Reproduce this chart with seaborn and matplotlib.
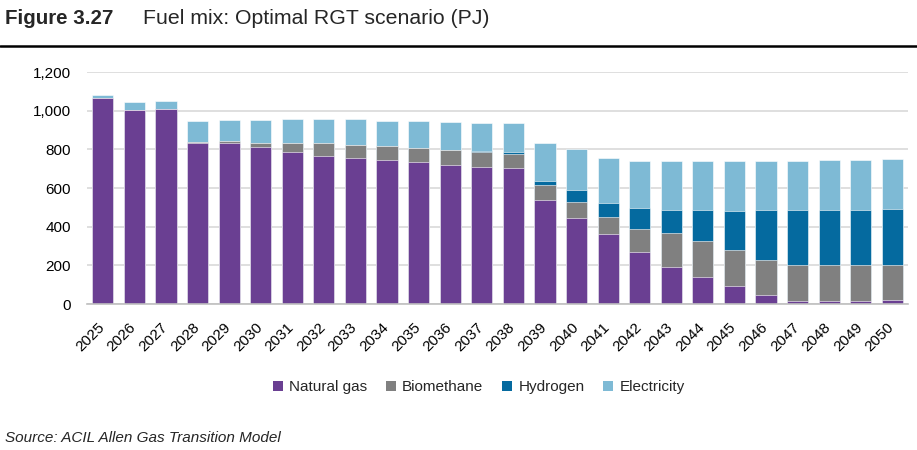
import matplotlib
matplotlib.use("Agg")
import matplotlib.pyplot as plt
import matplotlib.transforms as mtransforms
import seaborn as sns
import pandas as pd
from matplotlib.lines import Line2D
from matplotlib.patches import Patch

years = [str(y) for y in range(2025, 2051)]
natural_gas = [1066, 1004, 1009, 834, 832, 813, 786, 765, 755, 743, 732, 720, 709,
               701, 539, 443, 360, 267, 191, 142, 92, 45, 17, 17, 17, 19]
biomethane = [0, 0, 0, 3, 9, 22, 49, 67, 70, 74, 76, 79, 78,
              77, 78, 85, 92, 121, 174, 184, 185, 184, 187, 187, 187, 184]
hydrogen = [0, 0, 0, 0, 0, 0, 0, 0, 0, 0, 0, 0, 7,
            10, 19, 64, 71, 107, 122, 161, 204, 258, 283, 283, 284, 289]
electricity = [15, 41, 43, 110, 110, 119, 122, 127, 131, 132, 136, 141, 143,
               149, 199, 212, 232, 243, 251, 251, 257, 254, 254, 258, 258, 258]

series = ["Natural gas", "Biomethane", "Hydrogen", "Electricity"]
colors = ["#6A3F92", "#808080", "#056A9F", "#7EBAD5"]

df = pd.DataFrame({"year": years, "Natural gas": natural_gas, "Biomethane": biomethane,
                   "Hydrogen": hydrogen, "Electricity": electricity})
cum = df[series].cumsum(axis=1)
cum["year"] = df["year"]

sns.set_style("white")
plt.rcParams["font.family"] = ["Liberation Sans", "DejaVu Sans"]
narrow = ["Liberation Sans Narrow", "Liberation Sans", "DejaVu Sans"]

fig = plt.figure(figsize=(9.17, 4.5), dpi=100)
ax = fig.add_axes([0.0949, 0.3244, 0.8954, 0.5156])

# stacked bars: draw cumulative totals from the top series down
for name, col in reversed(list(zip(series, colors))):
    sns.barplot(data=cum, x="year", y=name, color=col, width=0.67, ax=ax,
                edgecolor="white", linewidth=0.4, saturation=1)

ax.set_ylim(0, 1200)
ax.set_xlim(-0.5, len(years) - 0.5)
ax.set_yticks(range(0, 1201, 200))
ax.set_yticklabels([f"{v:,}" for v in range(0, 1201, 200)])
ax.yaxis.grid(True, color="#D9D9D9", linewidth=1.2)
ax.set_axisbelow(True)
for s in ["top", "right", "left"]:
    ax.spines[s].set_visible(False)
ax.spines["bottom"].set_color("#BFBFBF")
ax.spines["bottom"].set_linewidth(1.2)
ax.set_xlabel("")
ax.set_ylabel("")
ax.tick_params(axis="both", length=0, labelsize=11, colors="black")
ax.tick_params(axis="y", pad=11.5)
ax.tick_params(axis="x", pad=6)
shift = mtransforms.ScaledTranslation(-5.5 / 100, -8 / 100, fig.dpi_scale_trans)
for lab in ax.get_xticklabels():
    lab.set_rotation(45)
    lab.set_ha("right")
    lab.set_rotation_mode("anchor")
    lab.set_transform(lab.get_transform() + shift)

handles = [Patch(facecolor=c, edgecolor="none", label=n) for n, c in zip(series, colors)]
fig.legend(handles=handles, loc="center", bbox_to_anchor=(0.522, 1 - 387 / 450), ncol=4,
           frameon=False, fontsize=11, handlelength=0.65, handleheight=0.65,
           handletextpad=0.4, columnspacing=1.25)

fig.text(5 / 917, 1 - 24.5 / 450, "Figure 3.27", fontsize=14.8, fontweight="bold",
         va="baseline", family=narrow)
fig.text(143 / 917, 1 - 24.5 / 450, "Fuel mix: Optimal RGT scenario (PJ)", fontsize=15.3,
         va="baseline", family=narrow)
fig.add_artist(Line2D([0, 1], [1 - 46 / 450, 1 - 46 / 450], color="black", linewidth=1.8))
fig.text(5 / 917, 1 - 438 / 450, "Source: ACIL Allen Gas Transition Model", fontsize=11,
         fontstyle="italic", va="center")

fig.savefig("out.png", dpi=100)
